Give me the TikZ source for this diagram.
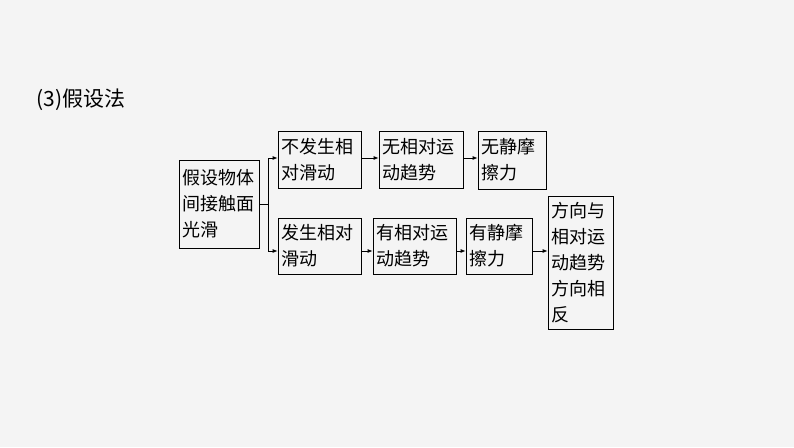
\documentclass[tikz,border=0pt]{standalone}
\usepackage{fontspec}
\setmainfont{Noto Sans CJK SC}
\usepackage{tikz}
\usetikzlibrary{arrows.meta}

\tikzset{
    box/.style={draw, thick, inner sep=2pt, align=left, font=\fontsize{18}{26}\selectfont},
    arr/.style={-{Latex[length=5pt, width=4pt]}, thick}
}

\begin{document}
\begin{tikzpicture}[x=1pt, y=-1pt]
    \fill[gray!9] (0, 0) rectangle (794, 447);
    \useasboundingbox (0, 0) rectangle (794, 447);

    \node[anchor=west, font=\fontsize{21}{24}\selectfont] at (33, 100) (title) {(3)假设法};

    \node[box, minimum width=80, minimum height=88, text width=74] at (219, 204) (a) {假设物体\\间接触面\\光滑};
    \node[box, minimum width=83, minimum height=57, text width=77] at (319.5, 159.5) (b1) {不发生相\\对滑动};
    \node[box, minimum width=84, minimum height=57, text width=78] at (421, 159.5) (b2) {无相对运\\动趋势};
    \node[box, minimum width=68, minimum height=58, text width=62] at (512, 160) (b3) {无静摩\\擦力};
    \node[box, minimum width=83, minimum height=56, text width=77] at (319.5, 246) (c1) {发生相对\\滑动};
    \node[box, minimum width=83, minimum height=56, text width=77] at (414.5, 246) (c2) {有相对运\\动趋势};
    \node[box, minimum width=66, minimum height=56, text width=60] at (499, 246) (c3) {有静摩\\擦力};
    \node[box, minimum width=65, minimum height=133, text width=59] at (580.5, 262.5) (d) {方向与\\相对运\\动趋势\\方向相\\反};

    \coordinate (fork) at (268, 204);
    \draw[thick] (a.east) -- (fork);
    \draw[arr] (fork) |- (b1.west |- 0, 158);
    \draw[arr] (fork) |- (c1.west |- 0, 251);
    \draw[arr] (b1.east |- 0, 158) -- (b2.west |- 0, 158);
    \draw[arr] (b2.east |- 0, 158) -- (b3.west |- 0, 158);
    \draw[arr] (c1.east |- 0, 251) -- (c2.west |- 0, 251);
    \draw[arr] (c2.east |- 0, 251) -- (c3.west |- 0, 251);
    \draw[arr] (c3.east |- 0, 251) -- (d.west |- 0, 251);
\end{tikzpicture}
\end{document}
